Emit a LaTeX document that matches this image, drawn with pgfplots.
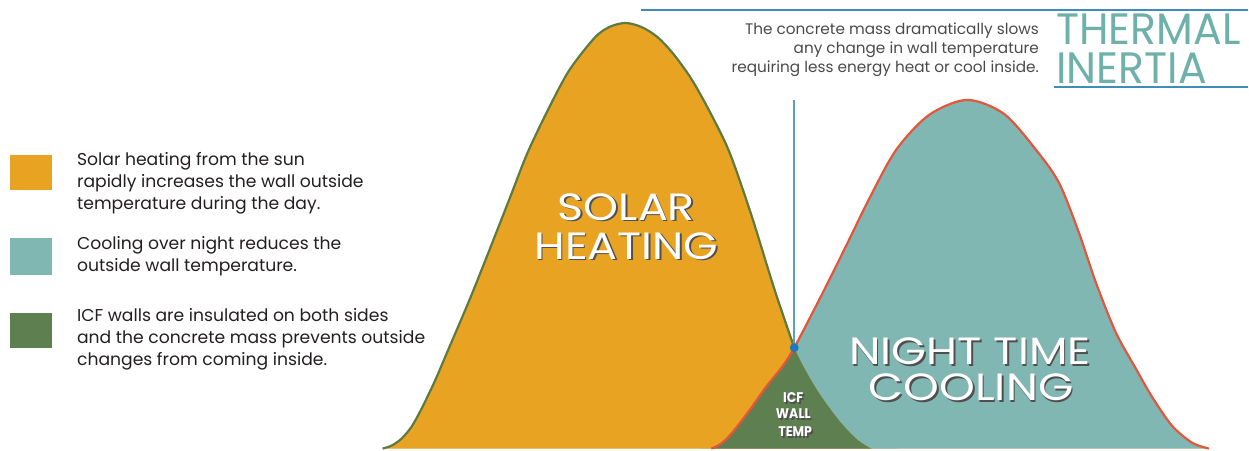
\documentclass[border=0pt]{standalone}
\usepackage{fontspec}
\setmainfont{Poppins}
\usepackage{pgfplots}
\usepackage{pgfplotstable}
\pgfplotsset{compat=1.18}
\usepgfplotslibrary{fillbetween}
\definecolor{sunorange}{HTML}{E9A322}
\definecolor{nightteal}{HTML}{80B7B3}
\definecolor{icfgreen}{HTML}{5E7F4F}
\definecolor{solaredge}{HTML}{5D7B3F}
\definecolor{nightedge}{HTML}{E4563B}
\definecolor{lineblue}{HTML}{3E8CB8}
\definecolor{dotblue}{HTML}{1F78BC}
\definecolor{thermteal}{HTML}{6EB0AA}
\definecolor{txtdark}{HTML}{231F20}
\definecolor{txtgray}{HTML}{4A4A4A}
\definecolor{shadowgray}{HTML}{4F4F4F}

\pgfplotstableread{
x y
383 0
392 3
402 10
412 22
422 40
435 67
447 95
470 149
490 199
510 250
528 296
550 342
570 379
595 411
610 422
626 426
642 422
658 412
674 395
692 370
710 338
730 297
752 234
775 160
795 101
817 60
840 28
858 9
872 0
}\solardata

\pgfplotstableread{
x y
383 0
392 3
402 10
412 22
422 40
435 67
447 95
470 149
490 199
510 250
528 296
550 342
570 379
595 411
610 422
626 426
642 422
658 412
674 395
692 370
710 338
730 297
752 234
775 160
795 101
}\solarleft

\pgfplotstableread{
x y
712 0
722 5
733 16
750 38
767 62
783 82
795 101
820 149
845 199
870 250
897 299
930 334
968 349
1005 335
1037 299
1060 266
1080 216
1097 166
1117 116
1137 80
1153 52
1173 23
1193 6
1210 0
}\nightdata

\newcommand\shtext[5]{%
  \node[text=shadowgray, inner sep=0pt, xscale=#4, font=#3] at ([xshift=1.6pt,yshift=-1.6pt]axis cs:#1,#2) {#5};
  \node[text=white, inner sep=0pt, xscale=#4, font=#3] at (axis cs:#1,#2) {#5};}

\begin{document}
\begin{tikzpicture}
\begin{axis}[width=1249pt,height=451pt,scale only axis,hide axis,
  xmin=0,xmax=1249,ymin=-2,ymax=449,clip=false]
\path[name path=base] (axis cs:383,0) -- (axis cs:1210,0);
\addplot[name path=solar, draw=none, smooth] table {\solardata};
\addplot[name path=night, draw=none, smooth] table {\nightdata};
\addplot[nightteal] fill between[of=night and base];
\addplot[sunorange] fill between[of=solar and base];
\addplot[icfgreen] fill between[of=solar and base, soft clip={domain=795:900}];
\addplot[icfgreen] fill between[of=night and base, soft clip={domain=700:795.5}];
\addplot[solaredge, line width=2.2pt, smooth] table {\solarleft};
\addplot[nightedge, line width=2.2pt, smooth] table {\nightdata};

% lines
\draw[lineblue, line width=2.4pt] (axis cs:642,439) -- (axis cs:1249,439);
\draw[lineblue, line width=2.4pt] (axis cs:1055,362) -- (axis cs:1249,362);
\draw[lineblue!85!white, line width=1.6pt] (axis cs:795,349) -- (axis cs:795,101);
\fill[dotblue] (axis cs:795,101) circle[radius=4.5pt];

% legend
\fill[sunorange] (axis cs:10,294) rectangle (axis cs:52,259);
\fill[nightteal] (axis cs:10,211) rectangle (axis cs:52,174);
\fill[icfgreen] (axis cs:10,136) rectangle (axis cs:52,101);
\node[anchor=west, align=left, inner sep=0pt, text=txtdark, font=\fontsize{17.2}{22}\selectfont] at (axis cs:77,266)
  {Solar heating from the sun\\rapidly increases the wall outside\\temperature during the day.};
\node[anchor=west, align=left, inner sep=0pt, text=txtdark, font=\fontsize{17.2}{22}\selectfont] at (axis cs:77,193)
  {Cooling over night reduces the\\outside wall temperature.};
\node[anchor=west, align=left, inner sep=0pt, text=txtdark, font=\fontsize{17.2}{22}\selectfont] at (axis cs:77,109)
  {ICF walls are insulated on both sides\\and the concrete mass prevents outside\\changes from coming inside.};

% annotation
\node[anchor=east, align=right, inner sep=0pt, text=txtgray, font=\fontsize{15.3}{19}\selectfont] at (axis cs:1040,399)
  {The concrete mass dramatically slows\\any change in wall temperature\\requiring less energy heat or cool inside.};
\node[anchor=north west, align=left, inner sep=0pt, text=thermteal, xscale=0.97, font=\fontsize{44}{39}\selectfont] at (axis cs:1057,435.5) {THERMAL\\INERTIA};

% big labels
\shtext{627}{242}{\fontsize{38}{38}\selectfont}{1.17}{SOLAR}
\shtext{627}{203}{\fontsize{38}{38}\selectfont}{1.17}{HEATING}
\shtext{971}{97}{\fontsize{38}{38}\selectfont}{1.18}{NIGHT TIME}
\shtext{972}{61}{\fontsize{38}{38}\selectfont}{1.2}{COOLING}
\shtext{794}{51}{\bfseries\fontsize{14}{14}\selectfont}{0.9}{ICF}
\shtext{794}{35}{\bfseries\fontsize{14}{14}\selectfont}{0.9}{WALL}
\shtext{796}{17}{\bfseries\fontsize{14}{14}\selectfont}{0.9}{TEMP}

\path (axis cs:0,-2) rectangle (axis cs:1249,449);
\end{axis}
\end{tikzpicture}
\end{document}
